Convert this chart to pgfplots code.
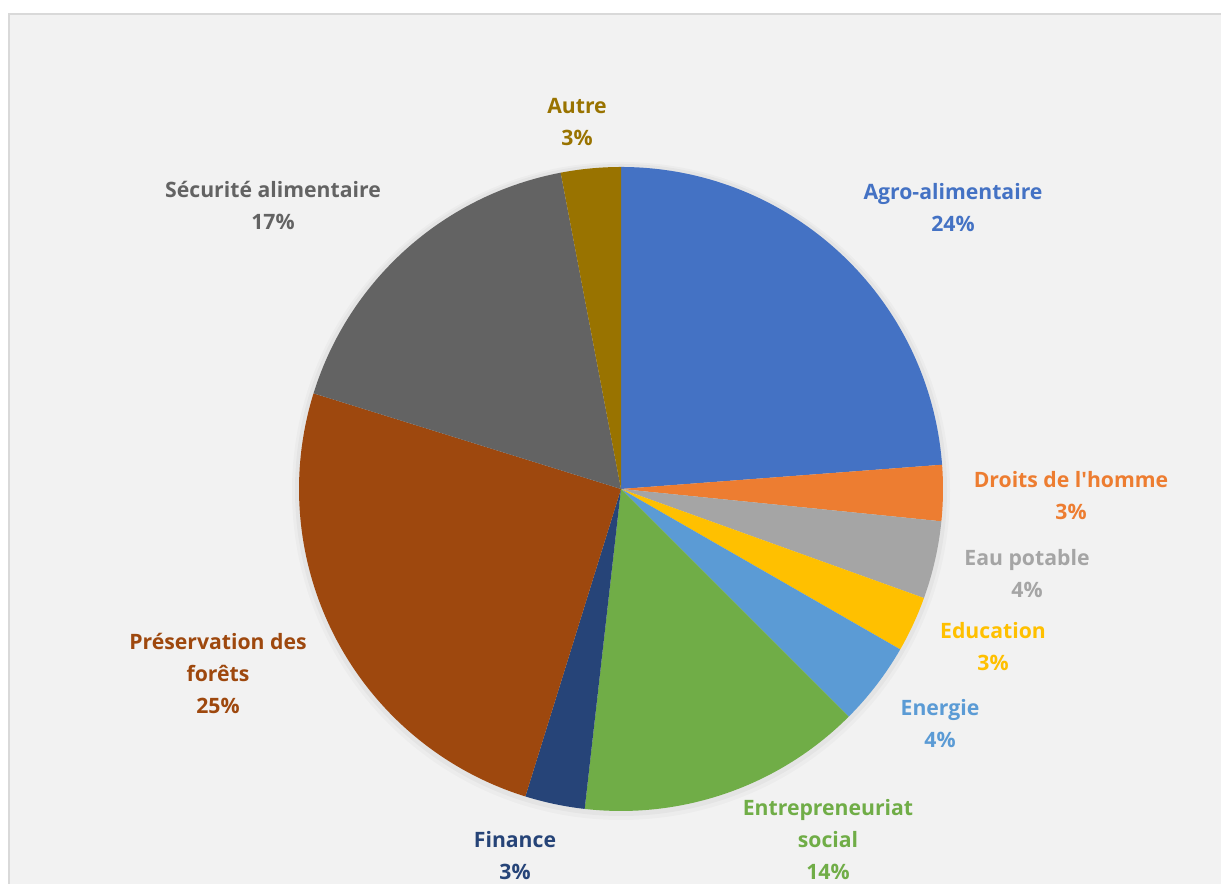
\documentclass[border=0pt]{standalone}
\usepackage{pgfplots}
\pgfplotsset{compat=1.18}
\usepackage{fontspec}
\setmainfont{Open Sans}

\definecolor{bg}{HTML}{F2F2F2}
\definecolor{frame}{HTML}{D9D9D9}
\definecolor{cAgro}{HTML}{4472C4}
\definecolor{cDroits}{HTML}{ED7D31}
\definecolor{cEau}{HTML}{A5A5A5}
\definecolor{cEdu}{HTML}{FFC000}
\definecolor{cEner}{HTML}{5B9BD5}
\definecolor{cEntr}{HTML}{70AD47}
\definecolor{cFin}{HTML}{264478}
\definecolor{cFor}{HTML}{9E480E}
\definecolor{cSec}{HTML}{636363}
\definecolor{cAutre}{HTML}{997300}

\tikzset{lbl/.style={align=center, font=\fontsize{10.6}{16}\selectfont\bfseries}}

% running start angle of the slices, clockwise from 12 o'clock
\gdef\cum{90}
% \slice{percent}{colour}
\newcommand\slice[2]{\pgfplotsextra{%
  \pgfmathsetmacro\sa{\cum}%
  \pgfmathsetmacro\sb{\cum-3.6*#1}%
  \fill[#2] (axis cs:621,395) -- (axis cs:{621+322*cos(\sa)},{395+322*sin(\sa)})
    arc[start angle=\sa, end angle=\sb, radius=161pt] -- cycle;
  \xdef\cum{\sb}}}

\begin{document}
\begin{tikzpicture}
\begin{axis}[
  scale only axis, width=610.5pt, height=442pt,
  xmin=0, xmax=1221, ymin=0, ymax=884,
  hide axis, clip=false,
]
% background
\fill[white] (axis cs:0,0) rectangle (axis cs:1221,884);
\fill[frame] (axis cs:8,0) rectangle (axis cs:1221,871);
\fill[bg] (axis cs:10,0) rectangle (axis cs:1221,869);
% soft shadow
\fill[black, opacity=0.025] (axis cs:621,393) circle[radius=164.5pt];
\fill[black, opacity=0.03] (axis cs:621,394) circle[radius=163pt];

\slice{23.8}{cAgro}
\slice{2.8}{cDroits}
\slice{3.9}{cEau}
\slice{2.8}{cEdu}
\slice{4.2}{cEner}
\slice{14.3}{cEntr}
\slice{3.0}{cFin}
\slice{25.0}{cFor}
\slice{17.2}{cSec}
\slice{3.0}{cAutre}

\node[lbl, text=cAgro]   at (axis cs:953,676) {Agro-alimentaire\\24\%};
\node[lbl, text=cDroits] at (axis cs:1071,388) {Droits de l\textquotesingle homme\\3\%};
\node[lbl, text=cEau]    at (axis cs:1027,310) {Eau potable\\4\%};
\node[lbl, text=cEdu]    at (axis cs:993,237) {Education\\3\%};
\node[lbl, text=cEner]   at (axis cs:940,160) {Energie\\4\%};
\node[lbl, text=cEntr]   at (axis cs:828,44) {Entrepreneuriat\\social\\14\%};
\node[lbl, text=cFin]    at (axis cs:515,28) {Finance\\3\%};
\node[lbl, text=cFor]    at (axis cs:218,211) {Préservation des\\forêts\\25\%};
\node[lbl, text=cSec]    at (axis cs:273,679) {Sécurité alimentaire\\17\%};
\node[lbl, text=cAutre]  at (axis cs:577,762) {Autre\\3\%};
\end{axis}
\end{tikzpicture}
\end{document}
